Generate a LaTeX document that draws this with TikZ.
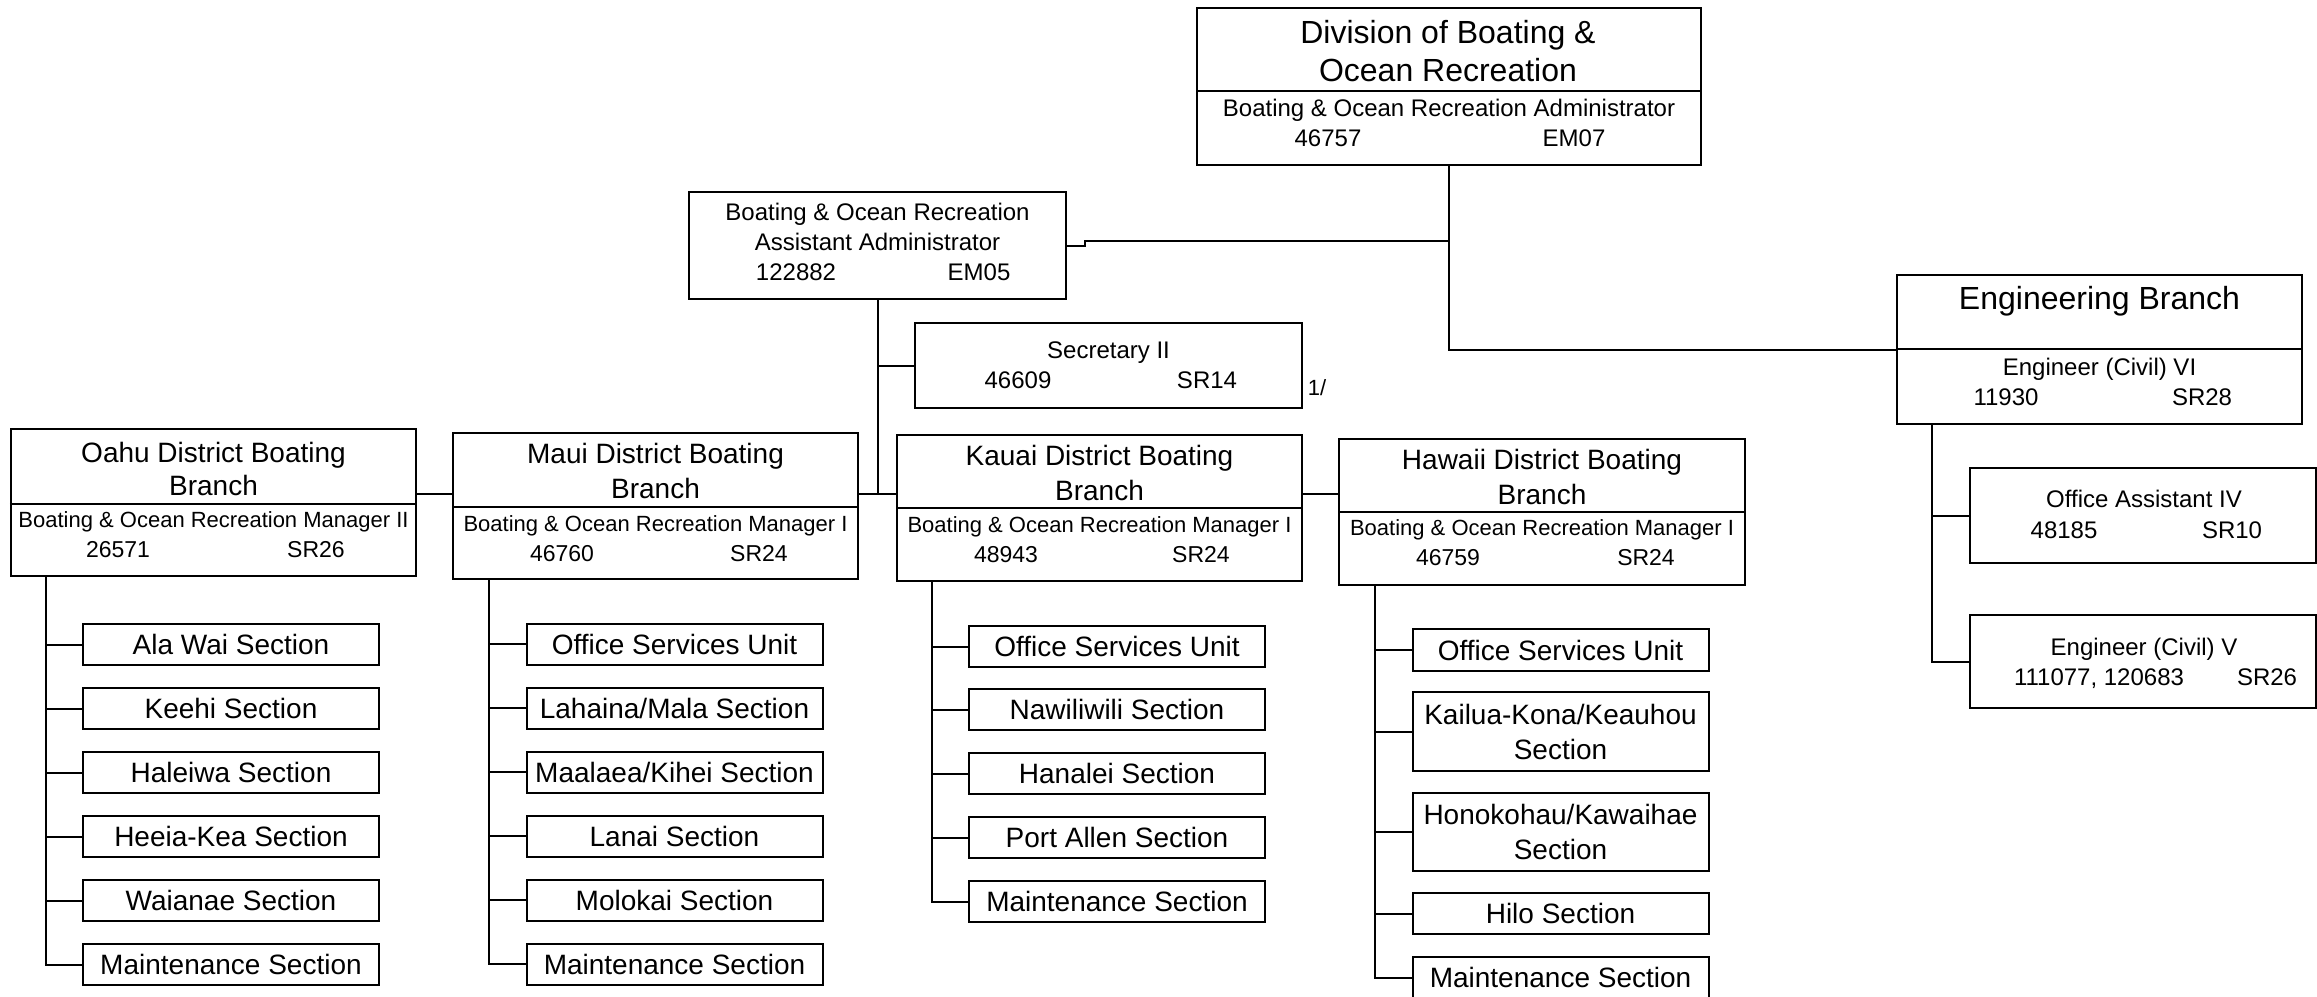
\documentclass[tikz,border=0pt]{standalone}
\usepackage{fontspec}
\setmainfont{Liberation Sans}
\begin{document}
\begin{tikzpicture}[x=1bp,y=-1bp,
  bx/.style={draw, rectangle, inner sep=0pt, line width=2bp},
  lk/.style={line width=2bp},
  tA/.style={inner sep=0pt, anchor=base, font=\fontsize{32bp}{38bp}\selectfont},
  tB/.style={inner sep=0pt, anchor=base, font=\fontsize{28bp}{35bp}\selectfont},
  tC/.style={inner sep=0pt, anchor=base, font=\fontsize{24bp}{29bp}\selectfont},
  tD/.style={inner sep=0pt, anchor=base, font=\fontsize{22bp}{27bp}\selectfont},
  tE/.style={inner sep=0pt, anchor=base, font=\fontsize{23bp}{28bp}\selectfont},
  child/.style={bx, minimum width=296bp, minimum height=41bp, font=\fontsize{28bp}{35bp}\selectfont, text height=20bp, text depth=0bp},
  childtwo/.style={bx, minimum width=296bp, align=center, font=\fontsize{28bp}{35bp}\selectfont}
]
\useasboundingbox (0,0) rectangle (2317,996);
\fill[white] (0,0) rectangle (2317,996);

% ---------- Division ----------
\node[bx, minimum width=504bp, minimum height=157bp] (div) at (1449,86.5) {};
\draw[lk] (div.west |- 0,91) -- (div.east |- 0,91);
\node[tA] (divt1) at (1448,43.5) {Division of Boating \&};
\node[tA] (divt2) at (1448,81.5) {Ocean Recreation};
\node[tC] (divt3) at (1449,116.5) {Boating \& Ocean Recreation Administrator};
\node[tC] (divn) at (1328,146.5) {46757};
\node[tC] (divg) at (1574,146.5) {EM07};

% ---------- Assistant Administrator ----------
\node[bx, minimum width=377bp, minimum height=107bp] (asst) at (877.5,245.5) {};
\node[tC] (asstt1) at (877.5,220.6) {Boating \& Ocean Recreation};
\node[tC] (asstt2) at (877.5,250.6) {Assistant Administrator};
\node[tC] (asstn) at (796,280.6) {122882};
\node[tC] (asstg) at (979,280.6) {EM05};

% ---------- Secretary ----------
\node[bx, minimum width=387bp, minimum height=85bp] (sec) at (1108.5,365.5) {};
\node[tC] (sect) at (1108.5,358.6) {Secretary II};
\node[tC] (secn) at (1018,388.6) {46609};
\node[tC] (secg) at (1207,388.6) {SR14};
\node[tD] (note) at (1317,395) {1/};

% ---------- Engineering ----------
\node[bx, minimum width=405bp, minimum height=149bp] (eng) at (2099.5,349.5) {};
\draw[lk] (eng.west |- 0,349) -- (eng.east |- 0,349);
\node[tA] (engt) at (2099.5,309.5) {Engineering Branch};
\node[tC] (engj) at (2099.5,375.6) {Engineer (Civil) VI};
\node[tC] (engn) at (2006,405.6) {11930};
\node[tC] (engg) at (2202,405.6) {SR28};

\node[bx, minimum width=346bp, minimum height=95bp] (oaf) at (2143,515.5) {};
\node[tC] (oaft) at (2144,507.6) {Office Assistant IV};
\node[tC] (oafn) at (2064,538.6) {48185};
\node[tC] (oafg) at (2232,538.6) {SR10};

\node[bx, minimum width=346bp, minimum height=93bp] (engv) at (2143,661.5) {};
\node[tC] (engvt) at (2144,655.6) {Engineer (Civil) V};
\node[tC] (engvn) at (2099,685.6) {111077, 120683};
\node[tC] (engvg) at (2267,685.6) {SR26};

% ---------- District branches ----------
\node[bx, minimum width=405bp, minimum height=147bp] (oahu) at (213.5,502.5) {};
\draw[lk] (oahu.west |- 0,504) -- (oahu.east |- 0,504);
\node[tB] (oahut1) at (213.5,462) {Oahu District Boating};
\node[tB] (oahut2) at (213.5,495) {Branch};
\node[tD] (oahum) at (213.5,527) {Boating \& Ocean Recreation Manager II};
\node[tE] (oahun) at (118,557) {26571};
\node[tE] (oahug) at (316,557) {SR26};

\node[bx, minimum width=405bp, minimum height=146bp] (maui) at (655.5,506) {};
\draw[lk] (maui.west |- 0,507) -- (maui.east |- 0,507);
\node[tB] (mauit1) at (655.5,463) {Maui District Boating};
\node[tB] (mauit2) at (655.5,498) {Branch};
\node[tD] (mauim) at (655.5,531) {Boating \& Ocean Recreation Manager I};
\node[tE] (mauin) at (562,561) {46760};
\node[tE] (mauig) at (759,561) {SR24};

\node[bx, minimum width=405bp, minimum height=146bp] (kauai) at (1099.5,508) {};
\draw[lk] (kauai.west |- 0,508) -- (kauai.east |- 0,508);
\node[tB] (kauait1) at (1099.5,465) {Kauai District Boating};
\node[tB] (kauait2) at (1099.5,500) {Branch};
\node[tD] (kauaim) at (1099.5,532) {Boating \& Ocean Recreation Manager I};
\node[tE] (kauain) at (1006,562) {48943};
\node[tE] (kauaig) at (1201,562) {SR24};

\node[bx, minimum width=406bp, minimum height=146bp] (hawaii) at (1542,512) {};
\draw[lk] (hawaii.west |- 0,512) -- (hawaii.east |- 0,512);
\node[tB] (hawaiit1) at (1542,469) {Hawaii District Boating};
\node[tB] (hawaiit2) at (1542,504) {Branch};
\node[tD] (hawaiim) at (1542,535) {Boating \& Ocean Recreation Manager I};
\node[tE] (hawaiin) at (1448,565) {46759};
\node[tE] (hawaiig) at (1646,565) {SR24};

% ---------- Oahu sections ----------
\node[child] (oa1) at (231,644.5) {Ala Wai Section};
\node[child] (oa2) at (231,708.5) {Keehi Section};
\node[child] (oa3) at (231,772.5) {Haleiwa Section};
\node[child] (oa4) at (231,836.5) {Heeia-Kea Section};
\node[child] (oa5) at (231,900.5) {Waianae Section};
\node[child] (oa6) at (231,964.5) {Maintenance Section};

% ---------- Maui sections ----------
\node[child] (ma1) at (674.5,644) {Office Services Unit};
\node[child] (ma2) at (674.5,708) {Lahaina/Mala Section};
\node[child] (ma3) at (674.5,772) {Maalaea/Kihei Section};
\node[child] (ma4) at (674.5,836) {Lanai Section};
\node[child] (ma5) at (674.5,900) {Molokai Section};
\node[child] (ma6) at (674.5,964) {Maintenance Section};

% ---------- Kauai sections ----------
\node[child] (ka1) at (1117,646.5) {Office Services Unit};
\node[child] (ka2) at (1117,709.5) {Nawiliwili Section};
\node[child] (ka3) at (1117,773.5) {Hanalei Section};
\node[child] (ka4) at (1117,837.5) {Port Allen Section};
\node[child] (ka5) at (1117,901.5) {Maintenance Section};

% ---------- Hawaii sections ----------
\node[child, minimum height=42bp] (ha1) at (1560.5,650) {Office Services Unit};
\node[childtwo, minimum height=79bp] (ha2) at (1560.5,731.5) {Kailua-Kona/Keauhou\\Section};
\node[childtwo, minimum height=78bp] (ha3) at (1560.5,832) {Honokohau/Kawaihae\\Section};
\node[child] (ha4) at (1560.5,913.5) {Hilo Section};
\node[child] (ha5) at (1560.5,977.5) {Maintenance Section};

% ---------- Connectors ----------
\coordinate (jog) at (1085,241);
\coordinate (bus) at (asst.south |- 0,494);
\draw[lk] (div.south) |- (eng.west);
\draw[lk] (div.south |- jog) -- (jog) |- (asst.east);
\draw[lk] (asst.south) -- (bus);
\draw[lk] (asst.south) |- (sec.west);
\draw[lk] (oahu.east |- bus) -- (maui.west |- bus);
\draw[lk] (maui.east |- bus) -- (kauai.west |- bus);
\draw[lk] (kauai.east |- bus) -- (hawaii.west |- bus);

\foreach \c in {oa1,oa2,oa3,oa4,oa5,oa6}
  \draw[lk] ([xshift=36bp]oahu.south west) |- (\c.west);
\foreach \c in {ma1,ma2,ma3,ma4,ma5,ma6}
  \draw[lk] ([xshift=37bp]maui.south west) |- (\c.west);
\foreach \c in {ka1,ka2,ka3,ka4,ka5}
  \draw[lk] ([xshift=36bp]kauai.south west) |- (\c.west);
\foreach \c in {ha1,ha2,ha3,ha4,ha5}
  \draw[lk] ([xshift=37bp]hawaii.south west) |- (\c.west);
\foreach \c in {oaf,engv}
  \draw[lk] ([xshift=36bp]eng.south west) |- (\c.west);
\end{tikzpicture}
\end{document}
